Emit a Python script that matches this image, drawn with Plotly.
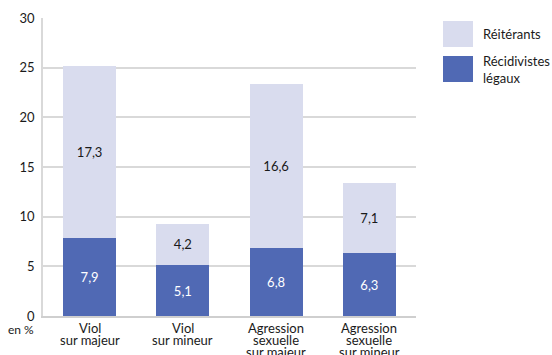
import plotly.graph_objects as go

categories = ["Viol<br>sur majeur", "Viol<br>sur mineur",
              "Agression<br>sexuelle<br>sur majeur", "Agression<br>sexuelle<br>sur mineur"]
recidivistes = [7.9, 5.1, 6.8, 6.3]
reiterants = [17.3, 4.2, 16.6, 7.1]
y_ticks = [0, 5, 10, 15, 20, 25, 30]

DARK = "#5069B4"
LIGHT = "#D9DCEE"
FONT = "Lato, 'Open Sans', sans-serif"

fig = go.Figure()
fig.add_bar(x=categories, y=recidivistes, name="Récidivistes légaux",
            marker=dict(color=DARK, line=dict(width=0)),
            text=[f"{v:.1f}".replace(".", ",") for v in recidivistes],
            textposition="inside", insidetextanchor="middle",
            textfont=dict(color="white", size=13, family=FONT))
fig.add_bar(x=categories, y=reiterants, name="Réitérants",
            marker=dict(color=LIGHT, line=dict(width=0)),
            text=[f"{v:.1f}".replace(".", ",") for v in reiterants],
            textposition="inside", insidetextanchor="middle",
            textfont=dict(color="#1a1a1a", size=13, family=FONT))

fig.update_layout(
    barmode="stack", bargap=0.43,
    width=552, height=355,
    margin=dict(l=43, r=136, t=18, b=39, autoexpand=False),
    plot_bgcolor="white", paper_bgcolor="white",
    showlegend=False,
    font=dict(family=FONT, size=13, color="#1a1a1a"),
    separators=", ",
    uniformtext=dict(minsize=13, mode="show"),
)
fig.update_yaxes(range=[0, 30], tickvals=y_ticks, gridcolor="#d9d9d9", gridwidth=1.5,
                 showline=True, linecolor="#d9d9d9", linewidth=1.5,
                 zeroline=False, ticks="", ticklabelstandoff=4, automargin=False,
                 tickfont=dict(size=13, family=FONT))
fig.update_xaxes(showline=True, linecolor="#cfcfcf", linewidth=1.5, ticks="",
                 showticklabels=False, automargin=False)

# category labels with tight line spacing
for cat in categories:
    for i, part in enumerate(cat.split("<br>")):
        fig.add_annotation(xref="x", yref="paper", x=cat, y=-(328 + 12 * i - 316) / 298,
                           text=part, showarrow=False, xanchor="center", yanchor="middle",
                           font=dict(size=13, family=FONT, color="#1a1a1a"))

# legend drawn manually
fig.add_shape(type="rect", xref="paper", yref="paper",
              x0=(443-43)/373, x1=(473-43)/373, y0=(316-47)/298, y1=(316-21)/298,
              fillcolor=LIGHT, line=dict(width=0))
fig.add_shape(type="rect", xref="paper", yref="paper",
              x0=(443-43)/373, x1=(473-43)/373, y0=(316-82)/298, y1=(316-56)/298,
              fillcolor=DARK, line=dict(width=0))
fig.add_annotation(xref="paper", yref="paper", x=(481-43)/373, y=(316-34)/298,
                   text="Réitérants", showarrow=False, xanchor="left", yanchor="middle",
                   align="left", font=dict(size=13, family=FONT))
fig.add_annotation(xref="paper", yref="paper", x=(481-43)/373, y=(316-69)/298,
                   text="Récidivistes<br>légaux", showarrow=False, xanchor="left",
                   yanchor="middle", align="left", font=dict(size=13, family=FONT))
fig.add_annotation(xref="paper", yref="paper", x=(36-43)/373, y=-(329-316)/298,
                   text="en %", showarrow=False, xanchor="right", yanchor="middle",
                   font=dict(size=12, family=FONT))

fig.write_html("out.html", config={"displayModeBar": False},
               post_script="document.body.style.margin='0';document.body.style.overflow='hidden';")
